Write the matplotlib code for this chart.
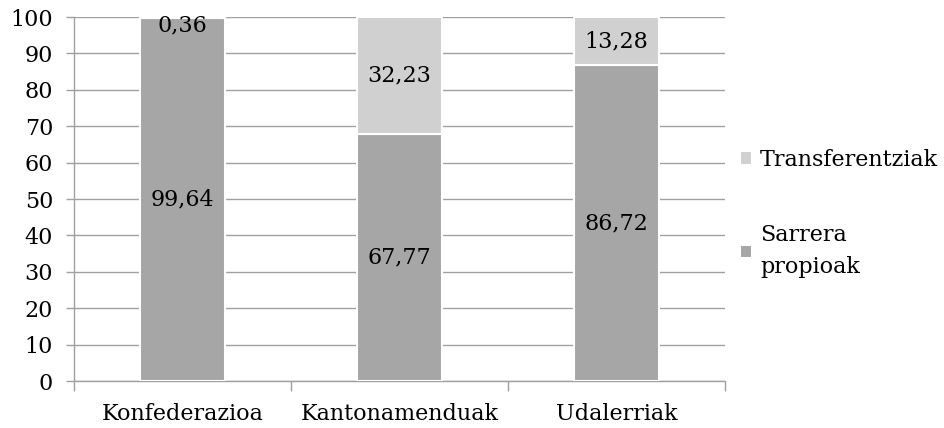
import matplotlib
matplotlib.use("Agg")
import matplotlib.pyplot as plt
import numpy as np

categories = ["Konfederazioa", "Kantonamenduak", "Udalerriak"]
sarrera = [99.64, 67.77, 86.72]
transfer = [0.36, 32.23, 13.28]
series_names = ["Sarrera\npropioak", "Transferentziak"]
yticks = list(range(0, 101, 10))

plt.rcParams['font.family'] = ['DejaVu Serif']
FS = 16

fig = plt.figure(figsize=(9.45, 4.28), dpi=100)
ax = fig.add_axes([74/945, 1-381/428, (725-74)/945, (381-17)/428])

x = np.arange(len(categories))
w = 0.39
c_bot = "#a6a6a6"
c_top = "#d0d0d0"
b1 = ax.bar(x, sarrera, w, color=c_bot, edgecolor="white", linewidth=1.5, label=series_names[0], zorder=3)
b2 = ax.bar(x, transfer, w, bottom=sarrera, color=c_top, edgecolor="white", linewidth=1.5, label=series_names[1], zorder=3)

fmt = lambda v: f"{v:.2f}".replace(".", ",")
for i in range(len(categories)):
    ax.text(x[i], sarrera[i]/2, fmt(sarrera[i]), ha="center", va="center", fontsize=FS, zorder=4)
    yc = sarrera[i] + transfer[i]/2
    if transfer[i] < 3:
        yc = 97.8
    ax.text(x[i], yc, fmt(transfer[i]), ha="center", va="center", fontsize=FS, zorder=4)

ax.set_xlim(-0.5, 2.5)
ax.set_ylim(0, 100)
ax.set_yticks(yticks)
ax.set_yticklabels([str(t) for t in yticks], fontsize=FS)
ax.set_xticks(x)
ax.set_xticklabels(categories, fontsize=FS)
ax.tick_params(axis="x", length=0, pad=16)
ax.set_xticks([-0.5, 0.5, 1.5, 2.5], minor=True)
ax.tick_params(axis="x", which="minor", length=7, color="#a0a0a0", width=1)
ax.tick_params(axis="y", length=6, color="#a0a0a0", width=1, pad=9)
ax.grid(axis="y", color="#a0a0a0", linewidth=1, zorder=0)
for s in ["top", "right"]:
    ax.spines[s].set_visible(False)
for s in ["left", "bottom"]:
    ax.spines[s].set_color("#a0a0a0")
    ax.spines[s].set_linewidth(1)

h, l = ax.get_legend_handles_labels()
leg = fig.legend(h[::-1], l[::-1], loc="upper left", bbox_to_anchor=(731/945, 1-140/428),
                 frameon=False, fontsize=FS, handlelength=0.55, handleheight=0.55,
                 handletextpad=0.35, labelspacing=2.4, borderaxespad=0)
for t in leg.get_texts():
    t.set_linespacing(1.55)

fig.savefig("out.png", dpi=100)
